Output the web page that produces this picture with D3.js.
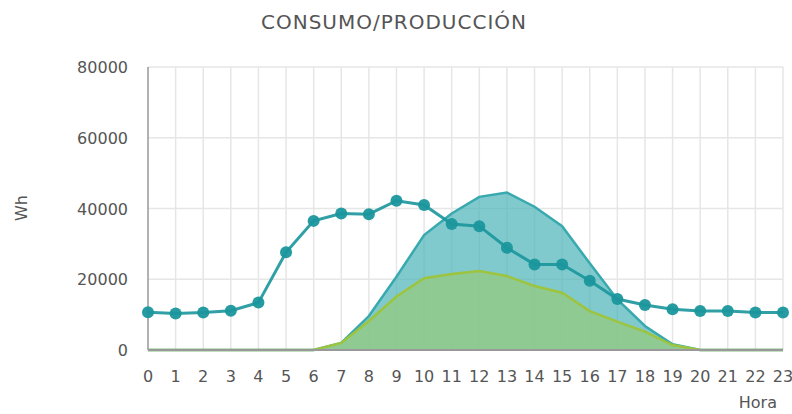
<!DOCTYPE html>
<html><head><meta charset="utf-8">
<script src="https://cdn.jsdelivr.net/npm/d3@7"></script>
<style>body{margin:0;background:#fff;} svg{display:block;font-family:"DejaVu Sans",sans-serif;}</style>
</head><body><svg id="c" width="792" height="414"></svg>
<script>
const hours = d3.range(0,24);
const consumo = [10700,10300,10600,11100,13400,27600,36500,38600,38400,42200,41000,35600,35000,28900,24200,24200,19600,14400,12700,11500,11000,11000,10600,10600];
const produccion = [0,0,0,0,0,0,0,2000,9600,20700,32500,38600,43300,44500,40500,35000,24500,14300,6800,1600,0,0,0,0];
const autoconsumo = [0,0,0,0,0,0,0,2000,8200,15100,20300,21500,22300,20900,18100,16200,11000,8000,5200,1400,0,0,0,0];
const yTicks = [0,20000,40000,60000,80000];

const svg = d3.select("#c");
const L=148,R=783,T=67,B=350;
const x = d3.scaleLinear().domain([0,23]).range([L,R]);
const y = d3.scaleLinear().domain([0,80000]).range([B,T]);

// grid
svg.append("g").selectAll("line").data(hours.slice(1)).join("line")
  .attr("x1",d=>x(d)).attr("x2",d=>x(d)).attr("y1",T).attr("y2",B)
  .attr("stroke","#e6e6e6").attr("stroke-width",1.5);
svg.append("g").selectAll("line").data(yTicks.slice(1)).join("line")
  .attr("x1",L).attr("x2",R).attr("y1",d=>y(d)).attr("y2",d=>y(d))
  .attr("stroke","#e6e6e6").attr("stroke-width",1.5);

const area = arr => d3.area().x((d,i)=>x(i)).y0(y(0)).y1(d=>y(d))(arr);
const line = arr => d3.line().x((d,i)=>x(i)).y(d=>y(d))(arr);

svg.append("path").attr("d",area(produccion)).attr("fill","#4fb5bb").attr("fill-opacity",0.72);
svg.append("path").attr("d",line(produccion)).attr("fill","none").attr("stroke","#38a9ae").attr("stroke-width",2.5);
svg.append("path").attr("d",area(autoconsumo)).attr("fill","#8fc98f").attr("fill-opacity",0.95);
svg.append("path").attr("d",line(autoconsumo)).attr("fill","none").attr("stroke","#9dc43e").attr("stroke-width",2.5);

// axes lines
svg.append("line").attr("x1",L).attr("x2",L).attr("y1",T).attr("y2",B).attr("stroke","#999").attr("stroke-width",1.5);
svg.append("line").attr("x1",L).attr("x2",R).attr("y1",B).attr("y2",B).attr("stroke","#999").attr("stroke-width",2);

// consumo
svg.append("path").attr("d",line(consumo)).attr("fill","none").attr("stroke","#1a969c").attr("stroke-width",3).attr("stroke-opacity",0.9);
svg.append("g").selectAll("circle").data(consumo).join("circle")
  .attr("cx",(d,i)=>x(i)).attr("cy",d=>y(d)).attr("r",6).attr("fill","#1a969c").attr("fill-opacity",0.95);

// tick labels
svg.append("g").selectAll("text").data(yTicks).join("text")
  .attr("x",128).attr("y",d=>y(d)+6).attr("text-anchor","end")
  .attr("font-size",16).attr("fill","#555").text(d=>d);
svg.append("g").selectAll("text").data(hours).join("text")
  .attr("x",d=>x(d)).attr("y",382).attr("text-anchor","middle")
  .attr("font-size",16).attr("fill","#555").text(d=>d);

svg.append("text").attr("x",394).attr("y",29).attr("text-anchor","middle").attr("font-size",20).attr("letter-spacing",1).attr("fill","#555").text("CONSUMO/PRODUCCIÓN");
svg.append("text").attr("transform","translate(27,208) rotate(-90)").attr("text-anchor","middle").attr("font-size",16).attr("fill","#555").text("Wh");
svg.append("text").attr("x",777).attr("y",408).attr("text-anchor","end").attr("font-size",16).attr("fill","#555").text("Hora");
</script></body></html>
